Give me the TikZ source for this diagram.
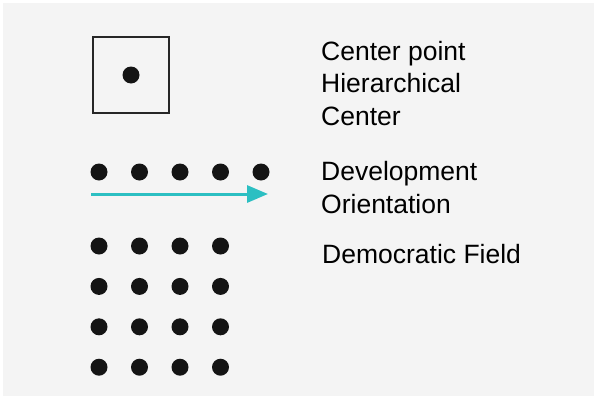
\documentclass[tikz,border=0pt]{standalone}
\usepackage{fontspec}
\setmainfont{Liberation Sans}
\usetikzlibrary{arrows.meta,positioning}
\definecolor{bgrey}{HTML}{F4F4F4}
\definecolor{tealarrow}{HTML}{2CBFC2}
\begin{document}
\begin{tikzpicture}[
    x=1pt, y=-1pt,
    dotnode/.style={circle, fill=black!92, inner sep=0pt, minimum size=17pt},
    label/.style={anchor=base west, inner sep=0pt, align=left,
      font=\fontsize{26.5}{32.5}\selectfont},
    devarrow/.style={-{Triangle[length=21pt, width=17pt]}, line width=3pt, draw=tealarrow}
]
\useasboundingbox (0,0) rectangle (594,399);
\fill[bgrey] (3,3) rectangle (594,396);
% hierarchical center
\node[draw=black!85, line width=2pt, minimum size=76pt, inner sep=0pt] (centerbox) at (131,75) {};
\node[dotnode] (centerdot) at (centerbox.center) {};
% development orientation
\foreach \i in {1,...,5}
  \node[dotnode] (dev\i) at ({99+40.5*(\i-1)},172) {};
\coordinate (devstart) at (91,194);
\coordinate (devend) at (268,194);
\draw[devarrow] (devstart) -- (devend);
% democratic field
\foreach \r in {1,...,4}
  \foreach \c in {1,...,4}
    \node[dotnode] (field\r\c) at ({99+40.5*(\c-1)},{246+40.4*(\r-1)}) {};
% labels (base is the last line)
\node[label] (centertext) at (321,125) {Center point\\Hierarchical\\Center};
\node[label] (devtext) at (321,213) {Development\\Orientation};
\node[label] (fieldtext) at (322,263) {Democratic Field};
\end{tikzpicture}
\end{document}
